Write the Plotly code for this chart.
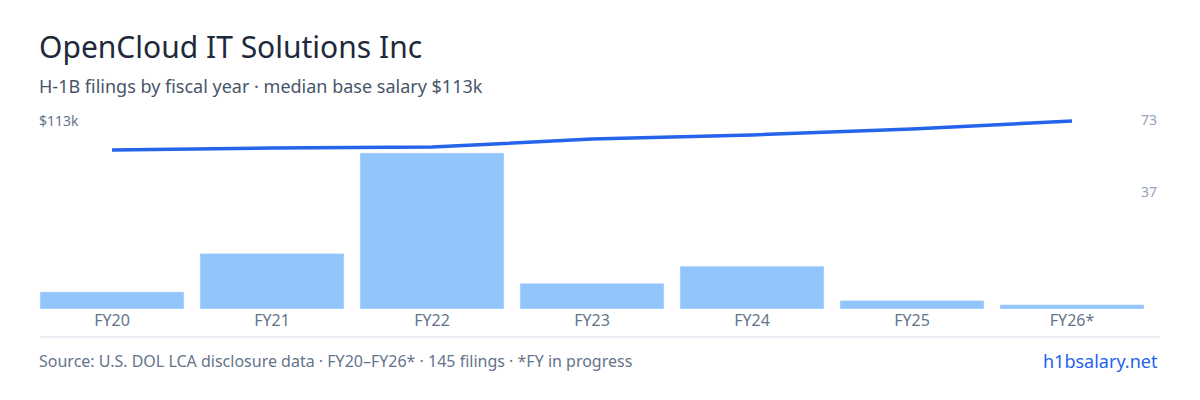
import plotly.graph_objects as go

years = ["FY20", "FY21", "FY22", "FY23", "FY24", "FY25", "FY26*"]
filings = [8, 26, 73, 12, 20, 4, 2]
salary_k = [113.6, 115.0, 115.7, 121.4, 124.3, 128.6, 134.3]

font = "Noto Sans"
# page renders with an 8px body offset, so layout numbers are 8px less than screen targets
OFF = 8
plot_l, plot_r, plot_t, plot_b = 32 - OFF, 1152 - OFF, 113 - OFF, 309 - OFF

fig = go.Figure()
fig.add_trace(go.Bar(x=years, y=filings, marker_color="#93c5fd", width=0.9, yaxis="y"))
fig.add_trace(go.Scatter(x=years, y=salary_k, mode="lines", line=dict(color="#2563eb", width=3.5),
                         yaxis="y2"))

fig.update_layout(
    width=1200, height=400, showlegend=False,
    plot_bgcolor="white", paper_bgcolor="white",
    margin=dict(l=plot_l, r=1200 - plot_r, t=plot_t, b=400 - plot_b),
    font=dict(family=font, color="#64748b"),
    xaxis=dict(showgrid=False, tickfont=dict(size=16, color="#64748b"), ticks="", ticklen=0),
    yaxis=dict(range=[0, 91.7], visible=False),
    yaxis2=dict(range=[0, 140], overlaying="y", visible=False),
)

def ann(x, y, text, size, color, anchor="left"):
    x, y = x - OFF, y - OFF
    fig.add_annotation(text=text, x=(x - plot_l) / (plot_r - plot_l),
                       y=(plot_b - y) / (plot_b - plot_t), xref="paper", yref="paper",
                       xanchor=anchor, yanchor="middle", showarrow=False,
                       font=dict(size=size, color=color, family=font))

ann(37, 47, "OpenCloud IT Solutions Inc", 30, "#1e293b")
ann(37, 86, "H-1B filings by fiscal year · median base salary $113k", 18, "#475569")
ann(37, 120, "$113k", 14, "#64748b")
ann(1159, 119, "73", 14, "#94a3b8", "right")
ann(1159, 191, "37", 14, "#94a3b8", "right")
ann(37, 361, "Source: U.S. DOL LCA disclosure data · FY20–FY26* · 145 filings · *FY in progress",
    16, "#64748b")
ann(1160, 361, "h1bsalary.net", 18, "#2563eb", "right")
ly = (plot_b - (337 - OFF)) / (plot_b - plot_t)
fig.add_shape(type="line", xref="paper", yref="paper",
              x0=(40 - OFF - plot_l) / (plot_r - plot_l), x1=(1160 - OFF - plot_l) / (plot_r - plot_l),
              y0=ly, y1=ly, line=dict(color="#e2e8f0", width=1.5))

fig.write_html("out.html")
